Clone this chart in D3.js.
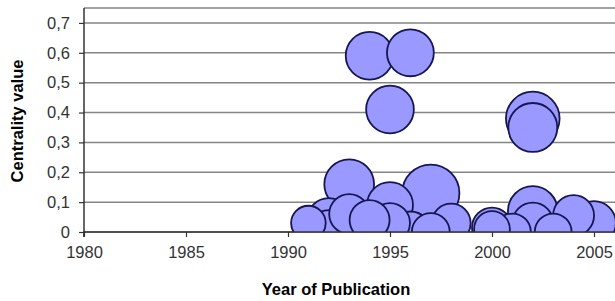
<!DOCTYPE html>
<html>
<head>
<meta charset="utf-8">
<script src="https://cdn.jsdelivr.net/npm/d3@7"></script>
<style>
	body { margin: 0; background: #fff; }
	svg { display: block; font-family: Arial, "Liberation Sans", sans-serif; }
</style>
</head>
<body>
<div id="chart"></div>
<script>
const years = [1994, 1996, 1995, 2002, 2002, 1993, 1997, 1995, 1993, 1992, 1991, 1992, 1994, 1995, 1996, 1997, 1998, 2000, 2000, 2001, 2002, 2002, 2003, 2004, 2005, 1994];
const values = [0.59, 0.60, 0.41, 0.38, 0.35, 0.16, 0.13, 0.09, 0.06, 0.04, 0.03, 0.0, 0.0, 0.03, 0.0, 0.0, 0.03, 0.015, 0.01, 0.0, 0.07, 0.03, 0.0, 0.055, 0.03, 0.04];
const sizes = [57, 55, 57, 72, 60, 62, 82, 53, 40, 48, 30, 48, 42, 40, 42, 36, 38, 40, 32, 34, 62, 42, 34, 42, 48, 40];

const xTicks = [1980, 1985, 1990, 1995, 2000, 2005];
const yTicks = [0, 0.1, 0.2, 0.3, 0.4, 0.5, 0.6, 0.7];

const W = 615, H = 301;
const plot = { left: 84, right: 615, top: 8, bottom: 232 };

const svg = d3.select('#chart').append('svg')
	.attr('width', W)
	.attr('height', H);

const x = d3.scaleLinear()
	.domain([1980, 2006.03])
	.range([plot.left, plot.right]);

const y = d3.scaleLinear()
	.domain([0, 0.75])
	.range([plot.bottom, plot.top]);

const r = d3.scaleSqrt()
	.domain([0, 100])
	.range([0, 31.6]);

// gridlines + top border
svg.append('g')
	.selectAll('line')
	.data(yTicks.concat([0.75]))
	.enter()
	.append('line')
		.attr('x1', plot.left)
		.attr('x2', plot.right)
		.attr('y1', d => y(d))
		.attr('y2', d => y(d))
		.style('stroke', '#858585')
		.style('stroke-width', 1.5);

svg.append('clipPath')
	.attr('id', 'plotclip')
	.append('rect')
		.attr('x', plot.left)
		.attr('y', plot.top)
		.attr('width', plot.right - plot.left)
		.attr('height', plot.bottom - plot.top);

const points = years.map((d, i) => ({ year: d, value: values[i], size: sizes[i] }))
	.sort((a, b) => b.size - a.size);

svg.append('g')
	.attr('clip-path', 'url(#plotclip)')
	.selectAll('circle')
	.data(points)
	.enter()
	.append('circle')
		.attr('cx', d => x(d.year))
		.attr('cy', d => y(d.value))
		.attr('r', d => r(d.size))
		.style('fill', '#9999ff')
		.style('stroke', '#161650')
		.style('stroke-width', 1.8);

const xAxis = d3.axisBottom(x)
	.tickValues(xTicks)
	.tickSize(5)
	.tickFormat(d3.format('d'));

const yAxis = d3.axisLeft(y)
	.tickValues(yTicks)
	.tickSize(5)
	.tickFormat(d => d === 0 ? '0' : String(d).replace('.', ','));

const gx = svg.append('g')
	.attr('transform', `translate(0, ${plot.bottom})`)
	.call(xAxis);

const gy = svg.append('g')
	.attr('transform', `translate(${plot.left}, 0)`)
	.call(yAxis);

[gx, gy].forEach(g => {
	g.select('.domain').style('stroke', '#333').style('stroke-width', 1.5);
	g.selectAll('.tick line').style('stroke', '#333').style('stroke-width', 1.2);
	g.selectAll('.tick text')
		.style('font-size', '16.5px')
		.style('fill', '#333')
		.style('font-family', 'Arial, "Liberation Sans", sans-serif');
});
gx.select('.domain').attr('d', `M${plot.left},5V0H${plot.right}`);
gy.select('.domain').attr('d', `M0,${plot.top}V${plot.bottom + 5}`);
gx.selectAll('.tick text').attr('y', 14);
gy.selectAll('.tick text').attr('x', -14);

svg.append('text')
	.attr('x', 336)
	.attr('y', 295)
	.attr('text-anchor', 'middle')
	.style('font-size', '16.5px')
	.style('font-weight', 'bold')
	.text('Year of Publication');

svg.append('text')
	.attr('transform', 'translate(23, 121) rotate(-90)')
	.attr('text-anchor', 'middle')
	.style('font-size', '16.5px')
	.style('font-weight', 'bold')
	.text('Centrality value');
</script>
</body>
</html>
